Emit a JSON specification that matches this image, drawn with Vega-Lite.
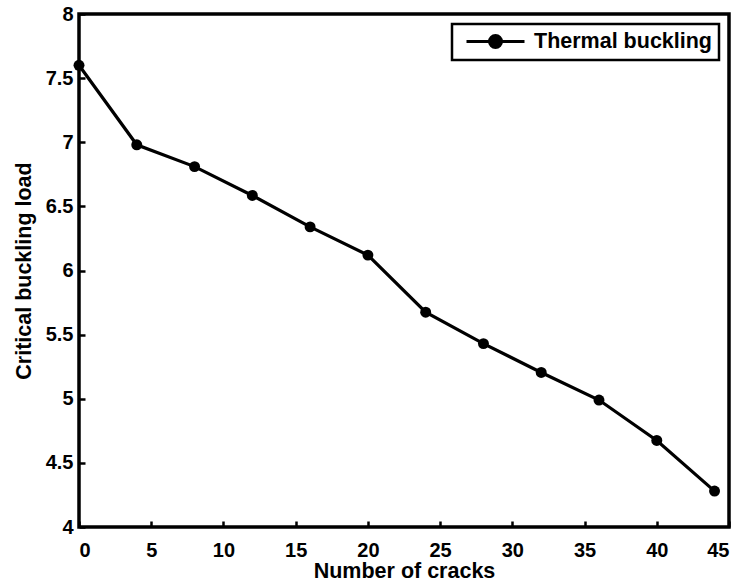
{
  "$schema": "https://vega.github.io/schema/vega-lite/v6.json",
  "width": 650,
  "height": 513,
  "autosize": "none",
  "padding": {"left": 79, "top": 14, "right": 16, "bottom": 60},
  "background": "white",
  "config": {
    "font": "Liberation Sans",
    "view": {"stroke": "black", "strokeWidth": 3.5}
  },
  "data": {
    "values": [
      {"cracks": 0, "load": 7.6, "series": "Thermal buckling"},
      {"cracks": 4, "load": 6.98, "series": "Thermal buckling"},
      {"cracks": 8, "load": 6.81, "series": "Thermal buckling"},
      {"cracks": 12, "load": 6.585, "series": "Thermal buckling"},
      {"cracks": 16, "load": 6.34, "series": "Thermal buckling"},
      {"cracks": 20, "load": 6.12, "series": "Thermal buckling"},
      {"cracks": 24, "load": 5.675, "series": "Thermal buckling"},
      {"cracks": 28, "load": 5.43, "series": "Thermal buckling"},
      {"cracks": 32, "load": 5.205, "series": "Thermal buckling"},
      {"cracks": 36, "load": 4.99, "series": "Thermal buckling"},
      {"cracks": 40, "load": 4.675, "series": "Thermal buckling"},
      {"cracks": 44, "load": 4.28, "series": "Thermal buckling"}
    ]
  },
  "encoding": {
    "x": {
      "field": "cracks", "type": "quantitative",
      "scale": {"domain": [0, 45], "nice": false, "zero": false},
      "axis": {"orient": "bottom", "title": "Number of cracks", "tickCount": 9, "domain": false, "grid": false, "tickSize": -6, "tickColor": "black", "tickWidth": 2.5, "labelPadding": 19, "labelFontSize": 20, "labelFontWeight": "bold", "labelColor": "black", "titlePadding": 0, "titleFontSize": 21.5, "titleFontWeight": "bold", "titleColor": "black"}
    },
    "y": {
      "field": "load", "type": "quantitative",
      "scale": {"domain": [4, 8], "nice": false, "zero": false},
      "axis": {"orient": "left", "title": "Critical buckling load", "tickCount": 8, "format": "~g", "domain": false, "grid": false, "tickSize": -6, "tickColor": "black", "tickWidth": 2.5, "labelPadding": 12, "labelFontSize": 20, "labelFontWeight": "bold", "labelColor": "black", "titlePadding": 10, "titleFontSize": 21.5, "titleFontWeight": "bold", "titleColor": "black"}
    }
  },
  "layer": [
    {
      "mark": {"type": "line", "strokeWidth": 3.2, "clip": false},
      "encoding": {
        "color": {
          "field": "series", "type": "nominal",
          "scale": {"range": ["black"]},
          "legend": {
            "title": null,
            "orient": "top-right",
            "offset": 10,
            "strokeColor": "black",
            "fillColor": "white",
            "padding": 6,
            "labelFont": "Liberation Sans",
            "labelFontSize": 21.5,
            "labelFontWeight": "bold",
            "labelColor": "black",
            "labelLimit": 400,
            "labelOffset": 27,
            "symbolOffset": 26,
            "symbolType": "M-2.9,0H2.9M-0.6,0A0.6,0.6 0 1 1 0.6,0A0.6,0.6 0 1 1 -0.6,0Z",
            "symbolSize": 400,
            "symbolStrokeWidth": 3,
            "symbolFillColor": "black",
            "symbolStrokeColor": "black",
            "encode": {
              "legend": {"update": {"strokeWidth": {"value": 2.5}}},
              "symbols": {"update": {"fill": {"value": "black"}, "stroke": {"value": "black"}, "strokeWidth": {"value": 3}}}
            }
          }
        }
      }
    },
    {
      "mark": {"type": "point", "filled": true, "color": "black", "opacity": 1, "size": 120, "clip": false}
    }
  ]
}
